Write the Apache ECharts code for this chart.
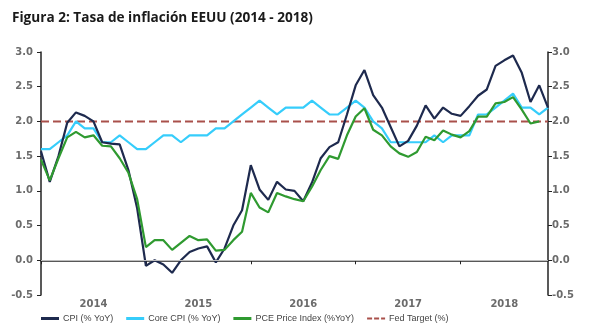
<!DOCTYPE html>
<html>
<head>
<meta charset="utf-8">
<script src="https://cdn.jsdelivr.net/npm/echarts@6/dist/echarts.min.js"></script>
<style>
html,body{margin:0;padding:0;background:#fff;}
#chart{width:596px;height:333px;}
</style>
</head>
<body>
<div id="chart"></div>
<script>
// Months Jan 2014 .. Nov 2018
const years = ['2014','2015','2016','2017','2018'];
const months = [];
years.forEach(y => { for (let m = 1; m <= 12; m++) { if (y === '2018' && m > 11) break; months.push(y + '-' + (m < 10 ? '0' + m : m)); } });

// Year labels placed near the middle of each year
const yearLabelAt = ['2014-07','2015-07','2016-07','2017-07','2018-06'];

const cpi = [
  1.57, 1.13, 1.5, 1.98, 2.13, 2.08, 2.0, 1.7, 1.68, 1.67, 1.3, 0.75,
  -0.08, 0.0, -0.06, -0.18, 0.0, 0.12, 0.17, 0.2, -0.03, 0.17, 0.5, 0.72,
  1.37, 1.02, 0.87, 1.13, 1.02, 1.0, 0.85, 1.12, 1.47, 1.63, 1.7, 2.1,
  2.52, 2.74, 2.38, 2.2, 1.92, 1.64, 1.72, 1.94, 2.23, 2.04, 2.2, 2.11,
  2.08, 2.22, 2.37, 2.46, 2.8, 2.88, 2.95, 2.7, 2.28, 2.52, 2.2
];
const coreCpi = [
  1.6, 1.6, 1.7, 1.8, 2.0, 1.9, 1.9, 1.7, 1.7, 1.8, 1.7, 1.6,
  1.6, 1.7, 1.8, 1.8, 1.7, 1.8, 1.8, 1.8, 1.9, 1.9, 2.0, 2.1,
  2.2, 2.3, 2.2, 2.1, 2.2, 2.2, 2.2, 2.3, 2.2, 2.1, 2.1, 2.2,
  2.3, 2.2, 2.0, 1.9, 1.7, 1.7, 1.7, 1.7, 1.7, 1.8, 1.7, 1.8,
  1.8, 1.8, 2.1, 2.1, 2.2, 2.3, 2.4, 2.2, 2.2, 2.1, 2.2
];
const pce = [
  1.45, 1.15, 1.47, 1.77, 1.85, 1.77, 1.8, 1.65, 1.64, 1.47, 1.26, 0.88,
  0.19, 0.29, 0.29, 0.15, 0.25, 0.35, 0.29, 0.3, 0.14, 0.15, 0.29, 0.41,
  0.97, 0.76, 0.69, 0.97, 0.92, 0.88, 0.85, 1.06, 1.3, 1.5, 1.46, 1.8,
  2.07, 2.19, 1.88, 1.8, 1.64, 1.54, 1.49, 1.56, 1.78, 1.73, 1.87, 1.81,
  1.77, 1.86, 2.07, 2.07, 2.26, 2.28, 2.35, 2.17, 1.97, 2.0, null
];
const fedTarget = months.map(() => 2.0);

const yMin = -0.5, yMax = 3.0, yStep = 0.5;

const labelStyle = { color: '#6b6b6b', fontFamily: 'DejaVu Sans', fontSize: 10, fontWeight: 'bold' };

const solidIcon = 'path://M0,0h18v3h-18z';
const dashIcon = 'path://M0,0h5v2h-5z M7,0h5v2h-5z M14,0h4v2h-4z';

const chart = echarts.init(document.getElementById('chart'), null, { renderer: 'canvas' });
chart.setOption({
  animation: false,
  backgroundColor: '#ffffff',
  title: {
    text: 'Figura 2: Tasa de inflación EEUU (2014 - 2018)',
    left: 7, top: 6,
    textStyle: { fontFamily: 'Open Sans', fontSize: 13.6, fontWeight: 'bold', color: '#1a1a1a' }
  },
  legend: {
    bottom: 5, left: 36,
    itemWidth: 18, itemHeight: 3, itemGap: 13,
    textStyle: { fontFamily: 'Liberation Sans', fontSize: 9, color: '#444', padding: [0, 0, 0, -1] },
    data: [
      { name: 'CPI (% YoY)', icon: solidIcon },
      { name: 'Core CPI (% YoY)', icon: solidIcon },
      { name: 'PCE Price Index (%YoY)', icon: solidIcon },
      { name: 'Fed Target (%)', icon: dashIcon }
    ]
  },
  grid: { left: 41, right: 48, top: 52, bottom: 38, containLabel: false },
  xAxis: {
    type: 'category',
    data: months,
    boundaryGap: false,
    axisLine: { lineStyle: { color: '#222', width: 1.5 } },
    axisTick: { show: true, length: 4, interval: (i) => i % 12 === 0, lineStyle: { color: '#222' } },
    axisLabel: {
      ...labelStyle,
      margin: 4,
      interval: (i, v) => yearLabelAt.indexOf(v) >= 0,
      formatter: (v) => v.slice(0, 4)
    },
    splitLine: { show: false }
  },
  yAxis: [
    {
      type: 'value', min: yMin, max: yMax, interval: yStep, position: 'left',
      axisLine: { show: true, lineStyle: { color: '#222', width: 1.5 } },
      axisTick: { show: true, length: 4, lineStyle: { color: '#222' } },
      axisLabel: { ...labelStyle, margin: 8, formatter: (v) => v.toFixed(1) },
      splitLine: { show: false }
    },
    {
      type: 'value', min: yMin, max: yMax, interval: yStep, position: 'right',
      axisLine: { show: true, lineStyle: { color: '#222', width: 1.5 } },
      axisTick: { show: true, length: 4, lineStyle: { color: '#222' } },
      axisLabel: { ...labelStyle, margin: 4, formatter: (v) => v.toFixed(1) },
      splitLine: { show: false }
    }
  ],
  series: [
    {
      name: 'CPI (% YoY)', type: 'line', data: cpi, showSymbol: false, symbol: 'none',
      lineStyle: { color: '#1e2a4e', width: 2.2 }, itemStyle: { color: '#1e2a4e' }, z: 4,
      markLine: {
        silent: true, symbol: 'none', label: { show: false },
        lineStyle: { color: '#bdbdbd', width: 1, type: 'solid' },
        data: [{ yAxis: 0 }]
      }
    },
    {
      name: 'Core CPI (% YoY)', type: 'line', data: coreCpi, showSymbol: false, symbol: 'none',
      lineStyle: { color: '#36cdfb', width: 2.2 }, itemStyle: { color: '#36cdfb' }, z: 3
    },
    {
      name: 'PCE Price Index (%YoY)', type: 'line', data: pce, showSymbol: false, symbol: 'none',
      lineStyle: { color: '#2f9a30', width: 2.2 }, itemStyle: { color: '#2f9a30' }, z: 5
    },
    {
      name: 'Fed Target (%)', type: 'line', data: fedTarget, showSymbol: false, symbol: 'none',
      lineStyle: { color: '#a9504b', width: 2, type: [8, 4] }, itemStyle: { color: '#a9504b' }, z: 2
    }
  ]
});
</script>
</body>
</html>
